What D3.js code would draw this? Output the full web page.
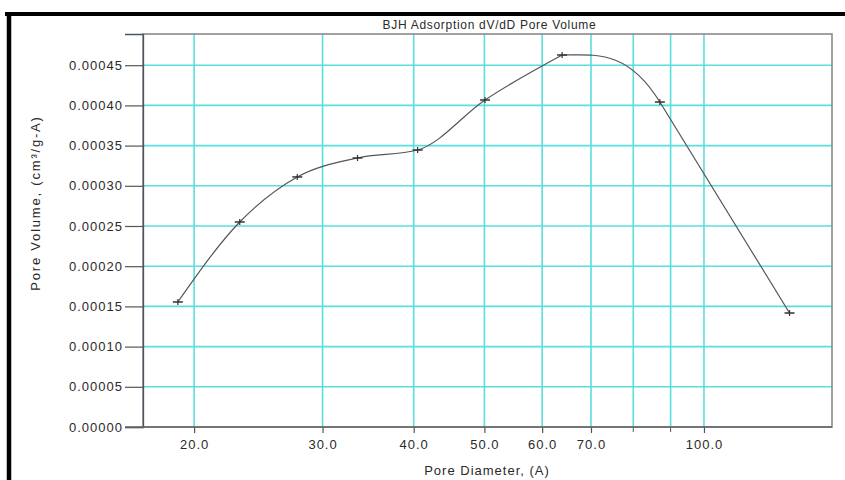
<!DOCTYPE html>
<html>
<head>
<meta charset="utf-8">
<script src="https://cdn.jsdelivr.net/npm/d3@7/dist/d3.min.js"></script>
<style>
  html, body { margin: 0; padding: 0; background: #fff; }
  svg { display: block; }
  text { font-family: "Liberation Sans", Arial, sans-serif; fill: #2a2a2a; }
</style>
</head>
<body>
<script>
// BJH adsorption dV/dD pore-volume distribution
const poreDiameter = [19.0, 23.1, 27.7, 33.5, 40.5, 50.1, 63.9, 87.0, 131.0];
const poreVolume   = [0.0001555, 0.000255, 0.000311, 0.0003346, 0.0003445, 0.0004067, 0.0004627, 0.0004042, 0.0001418];

const xTickValues = [20, 30, 40, 50, 60, 70, 100];
const xGridValues = [20, 30, 40, 50, 60, 70, 80, 90, 100];
const yTickValues = [0, 0.00005, 0.0001, 0.00015, 0.0002, 0.00025, 0.0003, 0.00035, 0.0004, 0.00045];

const W = 845, H = 480;
const plot = { left: 143, right: 832, top: 34, bottom: 427 };

const svg = d3.select("body").append("svg").attr("width", W).attr("height", H);

// page frame lines
svg.append("line").attr("x1", 5).attr("x2", W).attr("y1", 14).attr("y2", 14)
  .attr("stroke", "#000").attr("stroke-width", 4);
svg.append("line").attr("x1", 9).attr("x2", 9).attr("y1", 12).attr("y2", H)
  .attr("stroke", "#000").attr("stroke-width", 4.5);

const x = d3.scaleLog().domain([17.02, 149.8]).range([plot.left, plot.right]);
const y = d3.scaleLinear().domain([0, 0.0004888]).range([plot.bottom, plot.top]);

const gridColor = "#5adede";

// horizontal grid
svg.append("g").selectAll("line").data(yTickValues.filter(v => v > 0)).join("line")
  .attr("x1", plot.left).attr("x2", plot.right)
  .attr("y1", d => y(d)).attr("y2", d => y(d))
  .attr("stroke", gridColor).attr("stroke-width", 1.6);

// vertical grid
svg.append("g").selectAll("line").data(xGridValues).join("line")
  .attr("x1", d => x(d)).attr("x2", d => x(d))
  .attr("y1", plot.top).attr("y2", plot.bottom)
  .attr("stroke", gridColor).attr("stroke-width", 1.6);

// plot frame
svg.append("rect")
  .attr("x", plot.left).attr("y", plot.top)
  .attr("width", plot.right - plot.left).attr("height", plot.bottom - plot.top)
  .attr("fill", "none").attr("stroke", "#8a8a8a").attr("stroke-width", 1.6);

// y axis
const yAxis = d3.axisLeft(y).tickValues(yTickValues).tickFormat(d3.format(".5f"))
  .tickSize(18).tickPadding(2);
const gy = svg.append("g").attr("transform", `translate(${plot.left},0)`).call(yAxis);
gy.select(".domain").attr("stroke", "#4a5560").attr("stroke-width", 1.3);
gy.selectAll(".tick line").attr("stroke", "#555").attr("stroke-width", 1.2);
gy.selectAll(".tick text").style("font-size", "13px").style("letter-spacing", "1px")
  .attr("fill", "#2a2a2a");

// x axis (labelled ticks)
const xAxis = d3.axisBottom(x).tickValues(xTickValues).tickFormat(d3.format(".1f"))
  .tickSize(6).tickPadding(7);
const gx = svg.append("g").attr("transform", `translate(0,${plot.bottom})`).call(xAxis);
gx.select(".domain").remove();
gx.selectAll(".tick line").attr("stroke", "#555").attr("stroke-width", 1.2);
gx.selectAll(".tick text").style("font-size", "13px").style("letter-spacing", "1px")
  .attr("fill", "#2a2a2a");

// minor x ticks
svg.append("g").selectAll("line").data([80, 90]).join("line")
  .attr("x1", d => x(d)).attr("x2", d => x(d))
  .attr("y1", plot.bottom).attr("y2", plot.bottom + 5)
  .attr("stroke", "#666").attr("stroke-width", 1.1);

// bottom axis line
svg.append("line").attr("x1", plot.left - 18).attr("x2", plot.right)
  .attr("y1", plot.bottom).attr("y2", plot.bottom)
  .attr("stroke", "#666").attr("stroke-width", 1.4);

// data curve: smooth rise to the peak, a flat-topped shoulder past it,
// then a straight fall to the last point
const pts = poreDiameter.map((d, i) => [d, poreVolume[i]]);
const peak = 6;
const rise = d3.line().x(d => x(d[0])).y(d => y(d[1])).curve(d3.curveMonotoneX);
const sx = pts.map(d => x(d[0])), sy = pts.map(d => y(d[1]));
const p = d3.path();
const dx = sx[peak + 1] - sx[peak];
const mEnd = (sy[peak + 2] - sy[peak + 1]) / (sx[peak + 2] - sx[peak + 1]);
p.moveTo(sx[peak], sy[peak]);
p.bezierCurveTo(sx[peak] + dx / 3, sy[peak],
                sx[peak + 1] - dx / 3, sy[peak + 1] - mEnd * dx / 3,
                sx[peak + 1], sy[peak + 1]);
for (let i = peak + 2; i < pts.length; i++) p.lineTo(sx[i], sy[i]);

svg.append("path").attr("d", rise(pts.slice(0, peak + 1)) + p.toString())
  .attr("fill", "none").attr("stroke", "#555").attr("stroke-width", 1.2);

// plus markers
const mk = svg.append("g").selectAll("g").data(pts).join("g")
  .attr("transform", d => `translate(${x(d[0])},${y(d[1])})`);
mk.append("line").attr("x1", -5).attr("x2", 5).attr("y1", 0).attr("y2", 0)
  .attr("stroke", "#333").attr("stroke-width", 1.5);
mk.append("line").attr("x1", 0).attr("x2", 0).attr("y1", -3).attr("y2", 3)
  .attr("stroke", "#333").attr("stroke-width", 1.2);

// titles
svg.append("text").attr("x", (plot.left + plot.right) / 2 + 2).attr("y", 29)
  .attr("text-anchor", "middle").style("font-size", "12px").style("letter-spacing", "0.7px")
  .text("BJH Adsorption dV/dD Pore Volume");

svg.append("text").attr("x", 487).attr("y", 475)
  .attr("text-anchor", "middle").style("font-size", "13px").style("letter-spacing", "1px")
  .text("Pore Diameter, (A)");

svg.append("text").attr("transform", "translate(40,203) rotate(-90)")
  .attr("text-anchor", "middle").style("font-size", "13px").style("letter-spacing", "1.8px")
  .text("Pore Volume, (cm³/g-A)");
</script>
</body>
</html>
